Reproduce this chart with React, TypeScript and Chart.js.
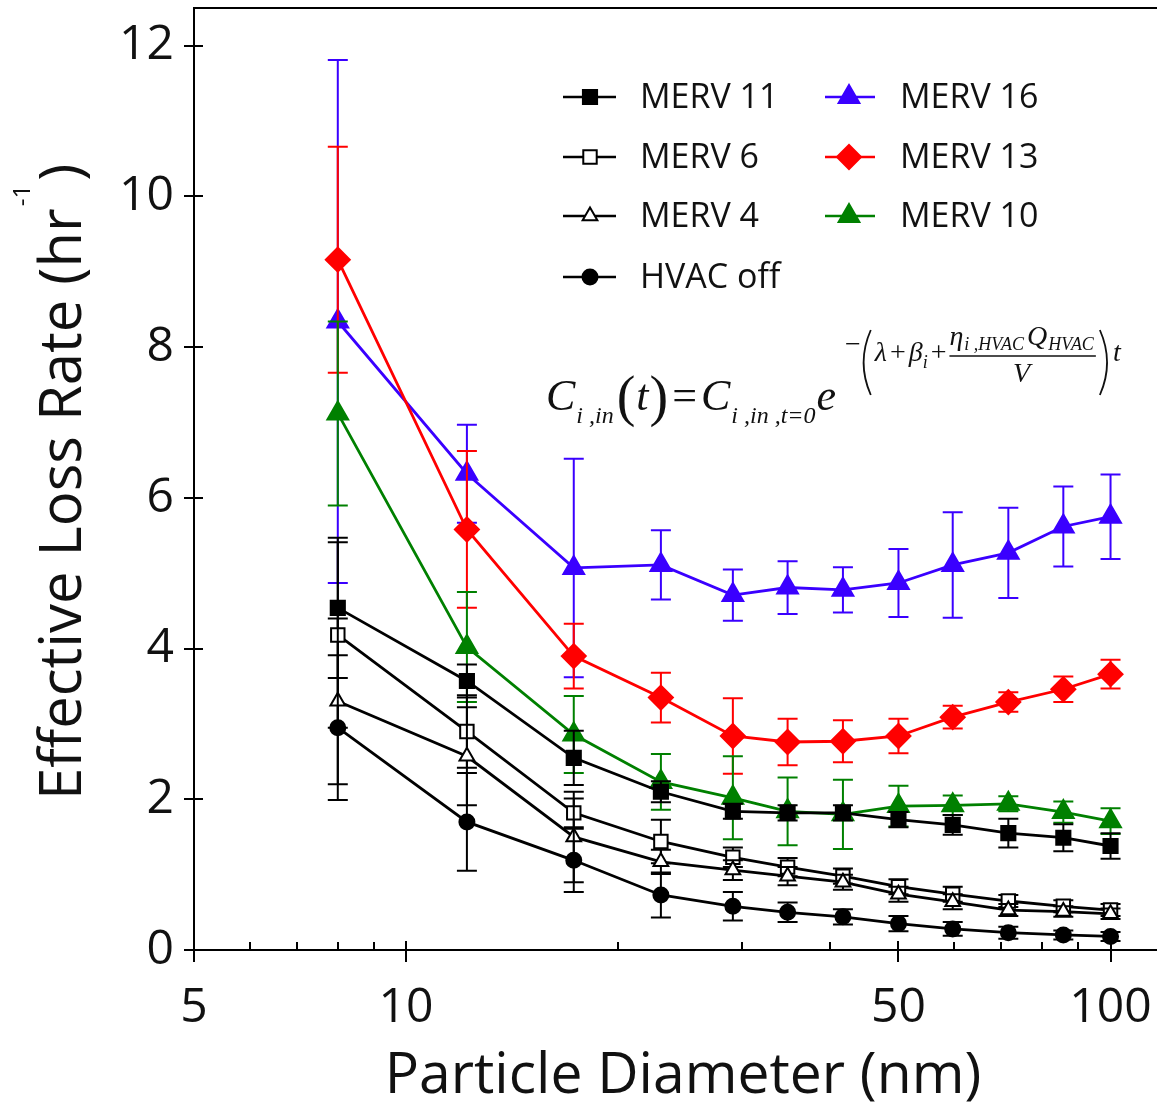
import React, { useEffect, useRef } from 'react';
import { Chart, registerables } from 'chart.js';

Chart.register(...registerables);

// ---------- data ----------
const diameters = [8, 12.2, 17.3, 23, 29.1, 34.8, 41.7, 50, 59.7, 71.6, 85.7, 100];

const merv16 = [8.34, 6.32, 5.07, 5.11, 4.71, 4.81, 4.78, 4.87, 5.11, 5.27, 5.62, 5.75];
const merv16Err = [3.47, 0.65, 1.45, 0.46, 0.34, 0.35, 0.3, 0.45, 0.7, 0.6, 0.53, 0.56];

const merv13 = [9.16, 5.58, 3.9, 3.35, 2.84, 2.76, 2.77, 2.84, 3.09, 3.29, 3.46, 3.66];
const merv13Err = [1.5, 1.04, 0.43, 0.33, 0.5, 0.31, 0.28, 0.23, 0.15, 0.13, 0.17, 0.19];

const merv10 = [7.12, 4.02, 2.86, 2.23, 2.02, 1.84, 1.8, 1.91, 1.92, 1.94, 1.83, 1.71];
const merv10Err = [1.22, 0.73, 0.51, 0.37, 0.55, 0.45, 0.46, 0.27, 0.13, 0.1, 0.14, 0.17];

const merv11 = [4.54, 3.57, 2.55, 2.1, 1.84, 1.82, 1.82, 1.73, 1.66, 1.55, 1.49, 1.38];
const merv11Err = [0.93, 0.22, 0.36, 0.14, 0.1, 0.1, 0.1, 0.1, 0.13, 0.19, 0.18, 0.17];

const merv6 = [4.18, 2.9, 1.82, 1.44, 1.23, 1.1, 0.98, 0.84, 0.74, 0.65, 0.58, 0.53];
const merv6Err = [1.23, 0.48, 0.19, 0.29, 0.13, 0.12, 0.1, 0.1, 0.1, 0.08, 0.08, 0.08];

const merv4 = [3.3, 2.57, 1.5, 1.17, 1.06, 0.98, 0.9, 0.74, 0.64, 0.53, 0.51, 0.48];
const merv4Err = [1.1, 0.65, 0.6, 0.16, 0.13, 0.12, 0.1, 0.1, 0.1, 0.08, 0.07, 0.07];

const hvacOff = [2.95, 1.7, 1.19, 0.73, 0.58, 0.5, 0.44, 0.35, 0.28, 0.23, 0.2, 0.18];
const hvacOffErr = [0.96, 0.65, 0.42, 0.3, 0.19, 0.13, 0.1, 0.1, 0.09, 0.08, 0.06, 0.06];

const xTickValues = [5, 6, 7, 8, 9, 10, 20, 30, 40, 50, 60, 70, 80, 90, 100];
const xMajorTicks = [5, 10, 50, 100];
const yTickValues = [0, 2, 4, 6, 8, 10, 12];

const xTitle = 'Particle Diameter (nm)';
const yTitleMain = 'Effective Loss Rate (hr';
const yTitleSup = '-1';
const yTitleEnd = ')';

// ---------- styles ----------
const BLUE = '#3a00ff';
const RED = '#ff0000';
const GREEN = '#008000';
const BLACK = '#000000';

type SeriesDef = {
  label: string;
  values: number[];
  errors: number[];
  color: string;
  fill: string;
  style: string;
  radius: number;
};

const seriesDefs: SeriesDef[] = [
  { label: 'HVAC off', values: hvacOff, errors: hvacOffErr, color: BLACK, fill: BLACK, style: 'circle', radius: 7.5 },
  { label: 'MERV 4', values: merv4, errors: merv4Err, color: BLACK, fill: '#ffffff', style: 'triangle', radius: 8.5 },
  { label: 'MERV 6', values: merv6, errors: merv6Err, color: BLACK, fill: '#ffffff', style: 'rect', radius: 9.5 },
  { label: 'MERV 11', values: merv11, errors: merv11Err, color: BLACK, fill: BLACK, style: 'rect', radius: 10 },
  { label: 'MERV 10', values: merv10, errors: merv10Err, color: GREEN, fill: GREEN, style: 'triangle', radius: 12 },
  { label: 'MERV 13', values: merv13, errors: merv13Err, color: RED, fill: RED, style: 'rectRot', radius: 12 },
  { label: 'MERV 16', values: merv16, errors: merv16Err, color: BLUE, fill: BLUE, style: 'triangle', radius: 12 },
];

const legendColumns = [
  ['MERV 11', 'MERV 6', 'MERV 4', 'HVAC off'],
  ['MERV 16', 'MERV 13', 'MERV 10'],
];

const TICK_FONT = '"Open Sans", "Noto Sans", sans-serif';
const SERIF = '"Liberation Serif", "DejaVu Serif", serif';

function markerPath(ctx: CanvasRenderingContext2D, style: string, x: number, y: number, r: number) {
  ctx.beginPath();
  if (style === 'circle') {
    ctx.arc(x, y, r, 0, Math.PI * 2);
  } else if (style === 'rect') {
    const s = Math.SQRT1_2 * r;
    ctx.rect(x - s, y - s, 2 * s, 2 * s);
  } else if (style === 'rectRot') {
    ctx.moveTo(x - r, y);
    ctx.lineTo(x, y - r);
    ctx.lineTo(x + r, y);
    ctx.lineTo(x, y + r);
    ctx.closePath();
  } else if (style === 'triangle') {
    let rad = 0;
    ctx.moveTo(x + Math.sin(rad) * r, y - Math.cos(rad) * r);
    rad += (2 * Math.PI) / 3;
    ctx.lineTo(x + Math.sin(rad) * r, y - Math.cos(rad) * r);
    rad += (2 * Math.PI) / 3;
    ctx.lineTo(x + Math.sin(rad) * r, y - Math.cos(rad) * r);
    ctx.closePath();
  }
}

const errorBarPlugin = {
  id: 'errorBars',
  beforeDatasetDraw(chart: any, args: any) {
    const ds = chart.data.datasets[args.index];
    const errs: number[] | undefined = ds.errorValues;
    if (!errs) return;
    const { ctx } = chart;
    const xs = chart.scales.x;
    const ys = chart.scales.y;
    ctx.save();
    ctx.strokeStyle = ds.borderColor;
    ctx.lineWidth = 2;
    const cap = 10;
    ds.data.forEach((p: any, i: number) => {
      const px = xs.getPixelForValue(p.x);
      const top = ys.getPixelForValue(p.y + errs[i]);
      const bot = ys.getPixelForValue(Math.max(p.y - errs[i], 0));
      ctx.beginPath();
      ctx.moveTo(px, top);
      ctx.lineTo(px, bot);
      ctx.moveTo(px - cap, top);
      ctx.lineTo(px + cap, top);
      ctx.moveTo(px - cap, bot);
      ctx.lineTo(px + cap, bot);
      ctx.stroke();
    });
    ctx.restore();
  },
};

type Run = { text: string; font: string; y: number; dx?: number };

function drawRuns(ctx: CanvasRenderingContext2D, x: number, runs: Run[]): number {
  let cx = x;
  for (const r of runs) {
    ctx.font = r.font;
    cx += r.dx || 0;
    ctx.fillText(r.text, cx, r.y);
    cx += ctx.measureText(r.text).width;
  }
  return cx;
}

function drawParen(ctx: CanvasRenderingContext2D, x: number, yTop: number, yBot: number, open: boolean) {
  const w = 9;
  const mid = (yTop + yBot) / 2;
  ctx.beginPath();
  if (open) {
    ctx.moveTo(x + w, yTop);
    ctx.quadraticCurveTo(x - w * 0.6, mid, x + w, yBot);
  } else {
    ctx.moveTo(x, yTop);
    ctx.quadraticCurveTo(x + w * 1.6, mid, x, yBot);
  }
  ctx.stroke();
}

const decorPlugin = {
  id: 'decor',
  afterDraw(chart: any) {
    const { ctx, chartArea } = chart;
    const xs = chart.scales.x;
    const ys = chart.scales.y;
    const { left, right, top, bottom } = chartArea;
    ctx.save();
    ctx.strokeStyle = BLACK;
    ctx.lineWidth = 2;
    // top frame line
    ctx.beginPath();
    ctx.moveTo(left - 1, top);
    ctx.lineTo(right, top);
    ctx.stroke();
    // x ticks
    xTickValues.forEach((v) => {
      const px = Math.round(xs.getPixelForValue(v));
      const major = xMajorTicks.includes(v);
      ctx.beginPath();
      ctx.moveTo(px, bottom - (major ? 9 : 8));
      ctx.lineTo(px, bottom + (major ? 12 : 0));
      ctx.stroke();
    });
    // y ticks
    yTickValues.forEach((v) => {
      const py = Math.round(ys.getPixelForValue(v));
      ctx.beginPath();
      ctx.moveTo(left - 10, py);
      ctx.lineTo(left + 9, py);
      ctx.stroke();
    });

    // axis titles
    ctx.fillStyle = '#111';
    ctx.font = `57px ${TICK_FONT}`;
    ctx.textAlign = 'center';
    ctx.textBaseline = 'alphabetic';
    ctx.fillText(xTitle, 683, 1093);

    ctx.save();
    ctx.translate(81, 800);
    ctx.rotate(-Math.PI / 2);
    ctx.textAlign = 'left';
    ctx.font = `58px ${TICK_FONT}`;
    ctx.fillText(yTitleMain, 0, 0);
    let w = ctx.measureText(yTitleMain).width;
    ctx.font = `24px ${TICK_FONT}`;
    ctx.fillText(yTitleSup, w + 2, -51);
    w += ctx.measureText(yTitleSup).width + 6;
    ctx.font = `58px ${TICK_FONT}`;
    ctx.fillText(yTitleEnd, w, 0);
    ctx.restore();

    // legend
    const rowsY = [97, 157, 216, 277];
    const cols = [
      { lx1: 563, lx2: 616, mx: 590, tx: 640 },
      { lx1: 825, lx2: 875, mx: 849, tx: 900 },
    ];
    legendColumns.forEach((names, ci) => {
      const c = cols[ci];
      names.forEach((name, ri) => {
        const s = seriesDefs.find((d) => d.label === name)!;
        const y = rowsY[ri];
        ctx.strokeStyle = s.color;
        ctx.lineWidth = 2.5;
        ctx.beginPath();
        ctx.moveTo(c.lx1, y);
        ctx.lineTo(c.lx2, y);
        ctx.stroke();
        markerPath(ctx, s.style, c.mx, y, s.radius);
        ctx.fillStyle = s.fill;
        ctx.fill();
        ctx.lineWidth = 2;
        ctx.stroke();
        ctx.fillStyle = '#111';
        ctx.font = `34px ${TICK_FONT}`;
        ctx.textAlign = 'left';
        ctx.textBaseline = 'middle';
        ctx.fillText(name, c.tx, y + 1);
      });
    });

    // equation
    ctx.fillStyle = '#111';
    ctx.strokeStyle = '#111';
    ctx.textAlign = 'left';
    ctx.textBaseline = 'alphabetic';
    const I = `italic 44px ${SERIF}`;
    const R = `44px ${SERIF}`;
    const P = `56px ${SERIF}`;
    const S = `italic 24px ${SERIF}`;
    const y0 = 410;
    drawRuns(ctx, 546, [
      { text: 'C', font: I, y: y0 },
      { text: 'i ,in', font: S, y: y0 + 13, dx: 1 },
      { text: '(', font: P, y: y0 + 5, dx: 3 },
      { text: 't', font: I, y: y0, dx: 1 },
      { text: ')', font: P, y: y0 + 5, dx: 1 },
      { text: '=', font: R, y: y0, dx: 4 },
      { text: 'C', font: I, y: y0, dx: 4 },
      { text: 'i ,in ,t=0', font: S, y: y0 + 13, dx: 1 },
      { text: 'e', font: I, y: y0, dx: 1 },
    ]);
    const E = `italic 28px ${SERIF}`;
    const ER = `28px ${SERIF}`;
    const ES = `italic 18px ${SERIF}`;
    const dashEnd = drawRuns(ctx, 845, [{ text: '\u2212', font: ER, y: 353 }]);
    ctx.lineWidth = 1.8;
    drawParen(ctx, dashEnd + 1, 330, 395, true);
    const cx = drawRuns(ctx, dashEnd + 14, [
      { text: '\u03bb', font: E, y: 361 },
      { text: '+', font: ER, y: 361, dx: 3 },
      { text: '\u03b2', font: E, y: 361, dx: 3 },
      { text: 'i', font: ES, y: 368 },
      { text: '+', font: ER, y: 361, dx: 3 },
    ]);
    const numStart = cx + 3;
    const numEnd = drawRuns(ctx, numStart, [
      { text: '\u03b7', font: E, y: 345 },
      { text: 'i ,HVAC', font: ES, y: 350, dx: 1 },
      { text: 'Q', font: E, y: 345, dx: 3 },
      { text: 'HVAC', font: ES, y: 350, dx: 1 },
    ]);
    ctx.lineWidth = 1.4;
    ctx.beginPath();
    ctx.moveTo(numStart, 356);
    ctx.lineTo(numEnd + 2, 356);
    ctx.stroke();
    ctx.font = E;
    ctx.textAlign = 'center';
    ctx.fillText('V', (numStart + numEnd) / 2, 382);
    ctx.textAlign = 'left';
    ctx.lineWidth = 1.8;
    drawParen(ctx, numEnd + 6, 330, 395, false);
    drawRuns(ctx, numEnd + 19, [{ text: 't', font: E, y: 361 }]);
    ctx.restore();
  },
};

export default function App() {
  const canvasRef = useRef<HTMLCanvasElement | null>(null);

  useEffect(() => {
    if (!canvasRef.current) return;
    const datasets = seriesDefs.map((s) => ({
      label: s.label,
      data: diameters.map((d, i) => ({ x: d, y: s.values[i] })),
      errorValues: s.errors,
      borderColor: s.color,
      backgroundColor: s.fill,
      pointBackgroundColor: s.fill,
      pointBorderColor: s.color,
      pointBorderWidth: 2,
      pointStyle: s.style,
      pointRadius: s.radius,
      borderWidth: 2.8,
      tension: 0,
      fill: false,
    }));

    const zeroPad = (scale: any) => {
      scale.paddingTop = 0;
      scale.paddingBottom = 0;
      scale.paddingLeft = 0;
      scale.paddingRight = 0;
    };

    const chart = new Chart(canvasRef.current, {
      type: 'line',
      data: { datasets } as any,
      options: {
        responsive: false,
        animation: false,
        devicePixelRatio: 1,
        layout: { autoPadding: false, padding: { top: 8, left: 0, right: 0, bottom: 0 } } as any,
        plugins: {
          legend: { display: false },
          tooltip: { enabled: false },
          title: { display: false },
        },
        scales: {
          x: {
            type: 'logarithmic',
            min: 5,
            max: 116.4,
            grid: { display: false, drawTicks: false },
            border: { display: true, color: BLACK, width: 2 },
            afterBuildTicks: (scale: any) => {
              scale.ticks = xTickValues.map((v) => ({ value: v, major: xMajorTicks.includes(v) }));
            },
            afterFit: (scale: any) => {
              scale.height = 156;
              zeroPad(scale);
            },
            ticks: {
              autoSkip: false,
              maxRotation: 0,
              minRotation: 0,
              padding: 30,
              color: '#111',
              font: { family: TICK_FONT, size: 48 },
              callback: (v: any) => (xMajorTicks.includes(Number(v)) ? String(v) : ''),
            },
          },
          y: {
            type: 'linear',
            min: 0,
            max: 12.5,
            grid: { display: false, drawTicks: false },
            border: { display: true, color: BLACK, width: 2 },
            afterBuildTicks: (scale: any) => {
              scale.ticks = yTickValues.map((v) => ({ value: v }));
            },
            afterFit: (scale: any) => {
              scale.width = 194;
              zeroPad(scale);
            },
            ticks: {
              padding: 20,
              color: '#111',
              font: { family: TICK_FONT, size: 48 },
              callback: (v: any) => String(v),
            },
          },
        },
      } as any,
      plugins: [errorBarPlugin, decorPlugin],
    });
    return () => chart.destroy();
  }, []);

  return (
    <div style={{ position: 'absolute', left: 0, top: 0, width: 1157, height: 1106, background: '#fff' }}>
      <canvas ref={canvasRef} width={1157} height={1106} style={{ width: 1157, height: 1106, display: 'block' }} />
    </div>
  );
}
